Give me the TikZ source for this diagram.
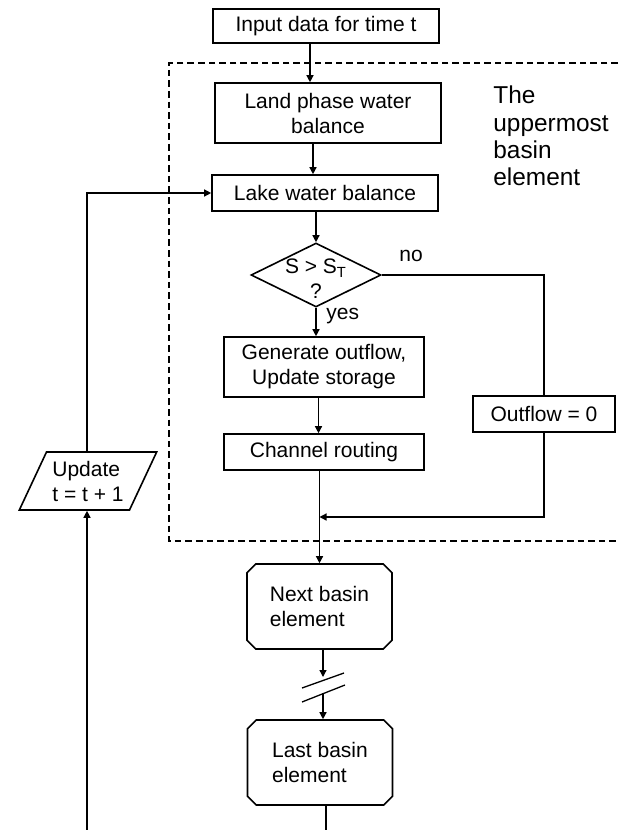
\documentclass[tikz,border=0pt]{standalone}
\usepackage{fontspec}
\setmainfont{Liberation Sans}
\usetikzlibrary{arrows.meta, shapes.geometric, shapes.misc}

\begin{document}
\begin{tikzpicture}[x=0.5pt, y=-0.5pt, font=\fontsize{10.5}{12.5}\selectfont]
        \tikzset{box/.style = {shape=rectangle, draw, line width=0.8pt, align=center, inner sep=0pt}}
        \tikzset{decision/.style = {shape=diamond, draw, line width=0.8pt, inner sep=0pt, minimum width=65pt, minimum height=32pt}}
        \tikzset{io/.style = {shape=trapezium, trapezium left angle=60, trapezium right angle=120, trapezium stretches=true, draw, line width=0.8pt, align=left, inner sep=0pt, minimum width=69pt, minimum height=29pt}}
        \tikzset{basin/.style = {shape=chamfered rectangle, chamfered rectangle xsep=2pt, chamfered rectangle ysep=2.4pt, draw, line width=0.8pt, align=left, inner sep=0pt, minimum width=72.5pt, minimum height=42.5pt}}
        \tikzset{edge/.style = {->, > = {Triangle[length=3.5pt, width=3.5pt]}, line width=0.65pt}}
        \tikzset{line/.style = {-, line width=0.65pt}}
        \tikzset{frame/.style = {line width=0.6pt, dash pattern=on 3.3pt off 2pt}}
        \useasboundingbox (0,0) rectangle (618,830);

        % the uppermost basin element
        \draw[frame] (618,63) -| (169,541) -- (618,541);
        \node[align=left, inner sep=0pt, anchor=west, font=\fontsize{12.2}{13.7}\selectfont] (title) at (493,136) {The\\uppermost\\basin\\element};

        \node[box, minimum width=113pt, minimum height=17pt] (input) at (326,26) {Input data for time t};
        \node[box, minimum width=113pt, minimum height=30pt] (land) at (328,113) {Land phase water\\balance};
        \node[box, minimum width=113pt, minimum height=18pt] (lake) at (325,193) {Lake water balance};
        \node[decision, label={[align=center, inner sep=0pt, yshift=-2pt]center:S > S\textsubscript{T}\\?}] (cond) at (316,275) {};
        \node[box, minimum width=100pt, minimum height=30pt] (gen) at (324,367) {Generate outflow,\\Update storage};
        \node[box, minimum width=100pt, minimum height=18pt] (chan) at (324,452) {Channel routing};
        \node[box, minimum width=71pt, minimum height=18pt] (zero) at (544,414) {Outflow = 0};
        \node[io] (update) at (88,481) {Update\\t = t + 1};
        \node[basin] (next) at (319.5,606.5) {Next basin\\element};
        \node[basin] (last) at (320,762.5) {Last basin\\element};

        \node (no) at (411,256) {no};
        \node[anchor=west, inner sep=0pt] (yes) at (326,316) {yes};

        \coordinate (join) at (319.5,517);
        \coordinate (brk1) at (323,677);
        \coordinate (brk2) at (323,693);
        \coordinate (outb) at (326,830);
        \coordinate (inb) at (87,830);

        \draw[edge] ([xshift=-8pt]input.south) to ([xshift=-8pt]input.south |- land.north);
        \draw[edge] ([xshift=-7.5pt]land.south) to ([xshift=-7.5pt]land.south |- lake.north);
        \draw[edge] (lake.south -| cond.north) to (cond.north);
        \draw[edge] (cond.south) to (cond.south |- gen.north);
        \draw[edge] ([xshift=-2.75pt]gen.south) to ([xshift=-2.75pt]gen.south |- chan.north);
        \draw[edge] (chan.south -| next.north) to (next.north);

        \draw[line] (cond.east) -| (zero.north);
        \draw[edge] (zero.south) |- (join);

        \draw[edge] (next.south -| brk1) to (brk1);
        \draw[line] (302,688) -- (344,673);
        \draw[line] (302,702) -- (345,685);
        \draw[edge] (brk2) to (brk2 |- last.north);
        \draw[line] (last.south -| outb) to (outb);

        \draw[edge] (inb) to (inb |- update.south);
        \draw[edge] (update.north -| inb) |- (lake.west);
      \end{tikzpicture}
\end{document}
